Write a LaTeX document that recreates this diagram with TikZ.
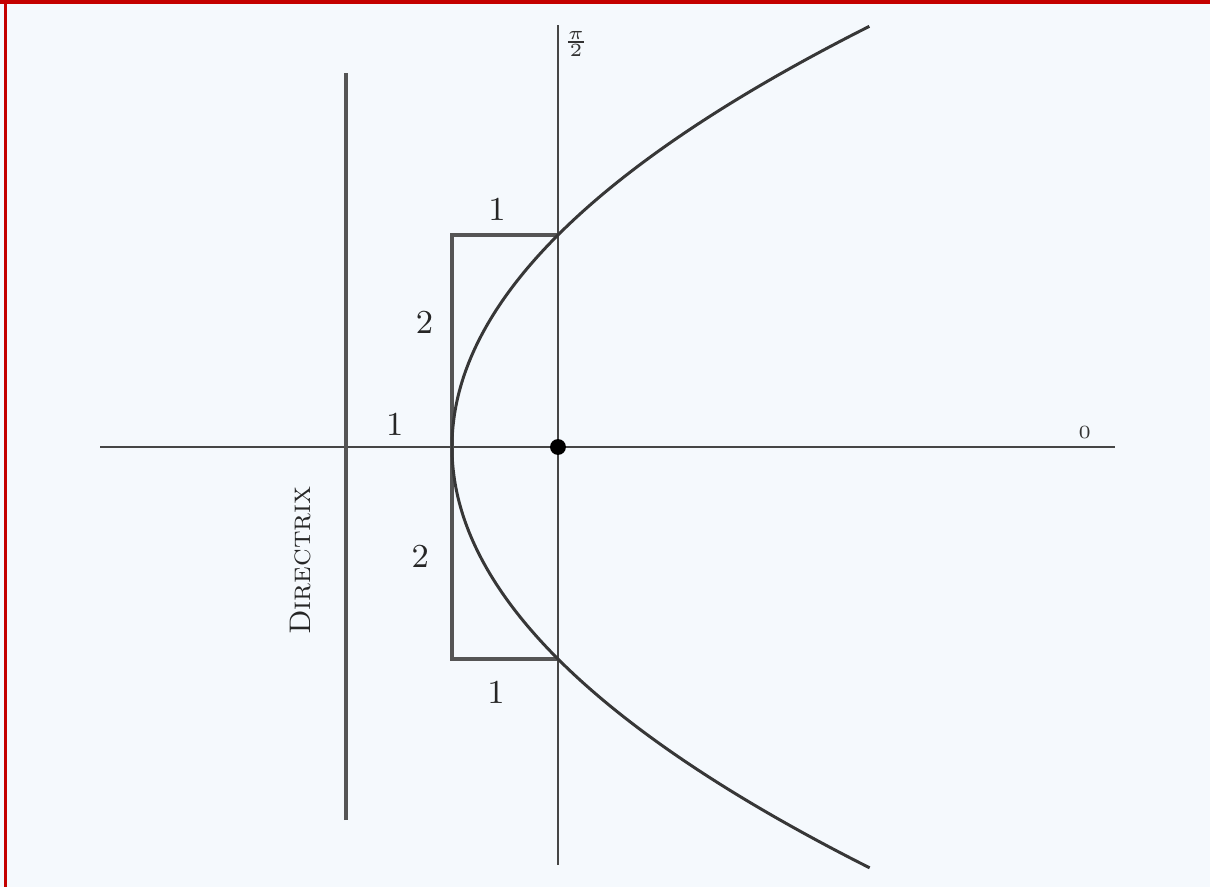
\documentclass[tikz,border=0pt]{standalone}
\usepackage{tikz}
\definecolor{bgc}{RGB}{245,249,253}
\definecolor{framered}{RGB}{196,0,0}
\definecolor{linec}{RGB}{70,70,70}
\definecolor{boxc}{RGB}{85,85,85}
\definecolor{parc}{RGB}{55,55,55}
\begin{document}
\begin{tikzpicture}[x=1cm,y=1cm,
  axis/.style={draw=linec, line width=0.45pt},
  boxline/.style={draw=boxc, line width=0.85pt},
  curve/.style={draw=parc, line width=0.8pt},
  lbl/.style={font=\small, text=black!85},
  tinylbl/.style={font=\tiny, text=black!80}]
% background and frame
\fill[bgc] (-5.264,-4.151) rectangle (6.151,4.217);
\useasboundingbox (-5.264,-4.151) rectangle (6.151,4.217);
\fill[framered] (-5.264,4.179) rectangle (6.151,4.217);
\fill[framered] (-5.226,-4.151) rectangle (-5.198,4.217);
% coordinates
\coordinate (xl) at (-4.32,0);
\coordinate (xr) at (5.255,0);
\coordinate (yt) at (0,3.98);
\coordinate (yb) at (0,-3.94);
\coordinate (dt) at (-2,3.53);
\coordinate (db) at (-2,-3.52);
\coordinate (rtl) at (-1,2);
\coordinate (rbl) at (-1,-2);
\coordinate (rtr) at (0,2);
\coordinate (rbr) at (0,-2);
% axes
\draw[axis] (xl) -- (xr);
\draw[axis] (yb) -- (yt);
% directrix
\draw[boxline] (db) -- (dt);
% rectangle
\draw[boxline] (rtr) -- (rtl) -- (rbl) -- (rbr);
% parabola y^2 = 4(x+1)
\draw[curve, domain=-3.97:3.97, samples=120, smooth, variable=\t] plot ({\t*\t/4-1},{\t});
% focus
\node[circle, fill=black, inner sep=0pt, minimum size=0.15cm] (focus) at (0,0) {};
% labels
\node[lbl] (l1t) at (-0.575,2.24) {1};
\node[lbl] (l2t) at (-1.26,1.18) {2};
\node[lbl] (l1m) at (-1.54,0.21) {1};
\node[lbl] (l2b) at (-1.30,-1.03) {2};
\node[lbl] (l1b) at (-0.585,-2.31) {1};
\node[tinylbl] (zero) at (4.97,0.14) {$0$};
\node[tinylbl] (pihalf) at (0.17,3.8) {$\frac{\pi}{2}$};
\node[font=\footnotesize, text=black!85, rotate=90] (dir) at (-2.43,-1.07) {\textsc{Directrix}};
\end{tikzpicture}
\end{document}
